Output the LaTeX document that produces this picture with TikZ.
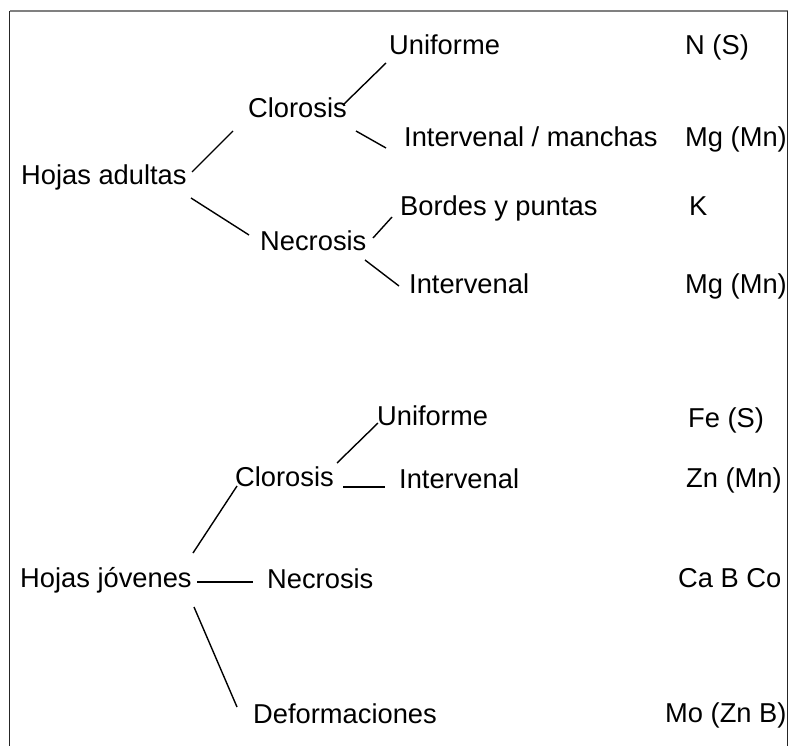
\documentclass[tikz,border=0pt]{standalone}
\usepackage{fontspec}
\setmainfont{Liberation Sans}
\usetikzlibrary{calc}
\begin{document}
\begin{tikzpicture}[x=1pt,y=-1pt,
  lbl/.style={anchor=base west,inner sep=0pt,font=\fontsize{27.3}{31}\selectfont,text=black},
  conn/.style={line width=1.4pt,black}]
\useasboundingbox (0,0) rectangle (792,746);
% frame (open at the bottom)
\draw[line width=1.2pt,black!85] (9.5,746) -- (9.5,11);
\draw[line width=1.2pt,black!50] (9.5,11) -- (787.5,11);
\draw[line width=1.2pt,black!85] (787.5,11) -- (787.5,746);
% upper tree
\node[lbl] (ha)  at (21,185)  {Hojas adultas};
\node[lbl] (cl1) at (248,118) {Clorosis};
\node[lbl] (ne1) at (260,250) {Necrosis};
\node[lbl] (un1) at (389,55)  {Uniforme};
\node[lbl] (im)  at (404,147) {Intervenal / manchas};
\node[lbl] (bp)  at (400,215) {Bordes y puntas};
\node[lbl] (iv1) at (409,293) {Intervenal};
\node[lbl] (ns)  at (685,55)  {N (S)};
\node[lbl] (mg1) at (685,147) {Mg (Mn)};
\node[lbl] (kk)  at (689,215) {K};
\node[lbl] (mg2) at (685,293) {Mg (Mn)};
\draw[conn] ($(ha.base west)+(171,-13)$) -- ($(cl1.base west)+(-15,13)$);
\draw[conn] ($(ha.base west)+(170,13)$) -- ($(ne1.base west)+(-11,-15)$);
\draw[conn] ($(cl1.base west)+(95,-13)$) -- ($(un1.base west)+(-3,8)$);
\draw[conn] ($(cl1.base west)+(108,13)$) -- ($(im.base west)+(-18,1)$);
\draw[conn] ($(ne1.base west)+(113,-12)$) -- ($(bp.base west)+(-8,2)$);
\draw[conn] ($(ne1.base west)+(105,10)$) -- ($(iv1.base west)+(-10,-7)$);
% lower tree
\node[lbl] (hj)  at (20,587)  {Hojas jóvenes};
\node[lbl] (cl2) at (235,486) {Clorosis};
\node[lbl] (ne2) at (267,588) {Necrosis};
\node[lbl] (de)  at (253,723) {Deformaciones};
\node[lbl] (un2) at (377,425) {Uniforme};
\node[lbl] (iv2) at (399,488) {Intervenal};
\node[lbl] (fe)  at (688,427) {Fe (S)};
\node[lbl] (zn)  at (686,487) {Zn (Mn)};
\node[lbl] (ca)  at (678,587) {Ca B Co};
\node[lbl] (mo)  at (665,722) {Mo (Zn B)};
\draw[conn] ($(cl2.base west)+(102,-23)$) -- ($(un2.base west)+(1,-2)$);
\draw[conn] ($(cl2.base west)+(108,1)$) -- ($(iv2.base west)+(-14,-1)$);
\draw[conn] ($(hj.base west)+(173,-34)$) -- ($(cl2.base west)+(2,0)$);
\draw[conn] ($(hj.base west)+(177,-5)$) -- ($(ne2.base west)+(-14,-6)$);
\draw[conn] ($(hj.base west)+(174,20)$) -- ($(de.base west)+(-16,-16)$);
\end{tikzpicture}
\end{document}
